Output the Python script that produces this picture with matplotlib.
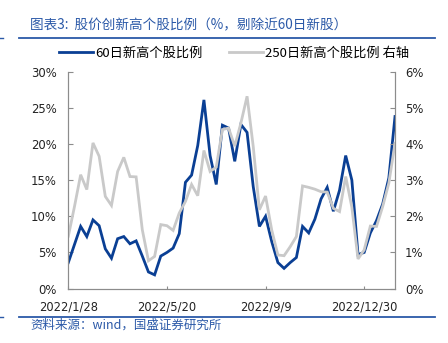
"""Share of stocks at 60-day / 250-day highs, weekly 2022/1/28 - 2023/2/3."""

import matplotlib

matplotlib.use("Agg")
import matplotlib.pyplot as plt
import pandas as pd
from matplotlib.lines import Line2D
from matplotlib.ticker import FuncFormatter

CJK = ["Noto Sans CJK SC", "DejaVu Sans"]
LATIN = ["DejaVu Sans", "Noto Sans CJK SC"]

BLUE = "#0A3F94"
GRAY = "#C9C9C9"
TITLE_BLUE = "#2B59A8"

# weekly observations (Friday closes)
dates = pd.date_range("2022-01-28", periods=54, freq="7D")

# left axis, %
high_60d = [
    3.6, 6.1, 8.6, 7.2, 9.5, 8.7, 5.5, 4.2, 6.9, 7.2,
    6.2, 6.6, 4.5, 2.3, 1.9, 4.5, 5.0, 5.6, 7.6, 14.7,
    15.7, 19.8, 26.1, 18.4, 14.4, 22.6, 22.2, 17.6, 22.7, 21.6,
    14.1, 8.6, 10.0, 6.5, 3.6, 2.8, 3.6, 4.3, 8.6, 7.7,
    9.6, 12.4, 14.0, 10.7, 13.6, 18.4, 15.0, 4.7, 5.0, 7.7,
    9.4, 11.7, 15.3, 23.8,
]

# right axis, %
high_250d = [
    1.45, 2.27, 3.15, 2.74, 4.03, 3.66, 2.55, 2.30, 3.24, 3.63,
    3.10, 3.09, 1.63, 0.77, 0.89, 1.77, 1.74, 1.61, 2.09, 2.41,
    2.88, 2.57, 3.82, 3.24, 3.36, 4.40, 4.44, 3.94, 4.58, 5.32,
    3.93, 2.18, 2.56, 1.62, 0.93, 0.91, 1.16, 1.44, 2.84, 2.80,
    2.75, 2.68, 2.67, 2.22, 2.13, 3.10, 2.25, 0.82, 1.07, 1.73,
    1.72, 2.27, 2.92, 4.02,
]

tick_dates = ["2022-01-28", "2022-05-20", "2022-09-09", "2022-12-30"]
tick_labels = ["2022/1/28", "2022/5/20", "2022/9/9", "2022/12/30"]

title = "图表3:  股价创新高个股比例（%，剔除近60日新股）"
source = "资料来源：wind，国盛证券研究所"
label_60 = "60日新高个股比例"
label_250 = "250日新高个股比例 右轴"


def style_axis(ax, side: str) -> None:
    for name, spine in ax.spines.items():
        spine.set_color("#8C8C8C")
        spine.set_linewidth(0.8)
        spine.set_visible(name in ("left", "right", "bottom"))
    ax.tick_params(axis="y", direction="in", length=3.5, width=0.8,
                   color="#8C8C8C", labelsize=8.4, labelcolor="#222222",
                   pad=8.6 if side == "left" else 7.2)
    for lab in ax.get_yticklabels():
        lab.set_family(LATIN)


fig = plt.figure(figsize=(4.48, 3.43), dpi=100)
ax = fig.add_axes([0.1525, 0.1586, 0.7292, 0.6324])
ax2 = ax.twinx()

ax.plot(dates, high_60d, color=BLUE, lw=2.0, solid_joinstyle="miter")
ax2.plot(dates, high_250d, color=GRAY, lw=2.0, solid_joinstyle="miter")

ax.set_xlim(dates[0], dates[-1])
ax.set_ylim(0, 30)
ax2.set_ylim(0, 6)
ax.set_yticks(range(0, 31, 5))
ax2.set_yticks(range(0, 7))
ax.yaxis.set_major_formatter(FuncFormatter(lambda v, _: f"{v:.0f}%"))
ax2.yaxis.set_major_formatter(FuncFormatter(lambda v, _: f"{v:.0f}%"))

ax.set_xticks(pd.to_datetime(tick_dates))
ax.set_xticklabels(tick_labels, family=LATIN)
ax.tick_params(axis="x", direction="in", length=2.5, width=0.8,
               color="#8C8C8C", labelsize=8.3, labelcolor="#222222", pad=8.3)
style_axis(ax, "left")
style_axis(ax2, "right")

handles = [Line2D([], [], color=BLUE, lw=2.0), Line2D([], [], color=GRAY, lw=2.0)]
fig.legend(handles, [label_60, label_250], loc="center", ncol=2,
           bbox_to_anchor=(0.523, 0.845), frameon=False,
           prop={"family": CJK, "size": 9.5}, handlelength=2.6,
           handletextpad=0.15, columnspacing=2.0, borderpad=0)

# header / footer
fig.text(30 / 448, 1 - 25 / 343, title, color=TITLE_BLUE, fontsize=9.8,
         family=CJK, va="center", ha="left", style="italic")
fig.text(30 / 448, 1 - 325 / 343, source, color=TITLE_BLUE, fontsize=9.0,
         family=CJK, va="center", ha="left", style="italic")
for y in (38.0, 317.0):
    fig.add_artist(Line2D([19 / 448, 435 / 448], [1 - y / 343] * 2,
                          color=TITLE_BLUE, lw=1.3))
    fig.add_artist(Line2D([0, 3 / 448], [1 - y / 343] * 2,
                          color=TITLE_BLUE, lw=1.0))

fig.savefig("out.png", dpi=100)
